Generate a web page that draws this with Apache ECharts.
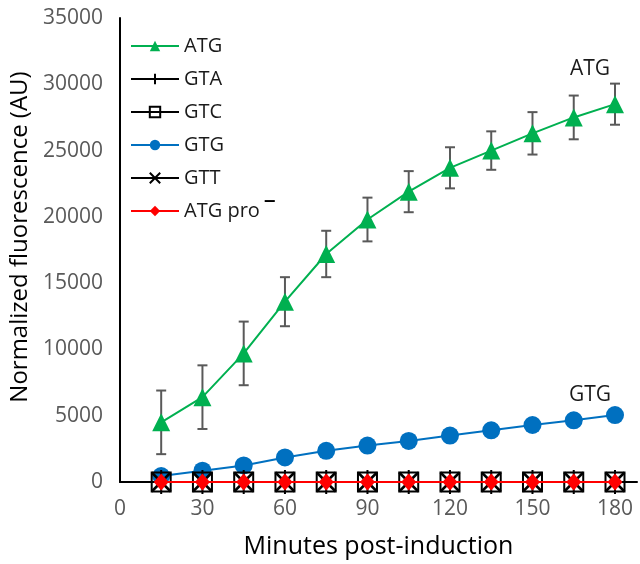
<!DOCTYPE html>
<html><head><meta charset="utf-8">
<script src="https://cdn.jsdelivr.net/npm/echarts@6/dist/echarts.min.js"></script>
<style>html,body{margin:0;padding:0;background:#fff}#c{width:640px;height:564px}</style>
</head><body><div id="c"></div>
<script>
var minutes = [15, 30, 45, 60, 75, 90, 105, 120, 135, 150, 165, 180];
var atg    = [4500, 6400, 9700, 13600, 17200, 19800, 21900, 23700, 25000, 26300, 27500, 28500];
var atgErr = [2400, 2400, 2400, 1850, 1750, 1650, 1550, 1550, 1450, 1600, 1650, 1550];
var gta    = [0, 0, 0, 0, 0, 0, 0, 0, 0, 0, 0, 0];
var gtc    = [0, 0, 0, 0, 0, 0, 0, 0, 0, 0, 0, 0];
var gtg    = [450, 850, 1250, 1850, 2350, 2750, 3100, 3500, 3900, 4300, 4650, 5050];
var gtt    = [0, 0, 0, 0, 0, 0, 0, 0, 0, 0, 0, 0];
var atgPro = [0, 0, 0, 0, 0, 0, 0, 0, 0, 0, 0, 0];
var yTicks = [0, 5000, 10000, 15000, 20000, 25000, 30000, 35000];
var xTicks = [0, 30, 60, 90, 120, 150, 180];

function pairs(v){ return minutes.map(function(m,i){ return [m, v[i]]; }); }
function withEndLabel(v, txt, off){
  return minutes.map(function(m,i){
    var d = {value:[m, v[i]]};
    if(i === minutes.length-1){
      d.label = {show:true, position:'top', offset:off, formatter:txt,
        fontFamily:'Open Sans', fontSize:21, color:'#1a1a1a'};
    }
    return d;
  });
}
var errData = minutes.map(function(m,i){ return [m, atg[i]-atgErr[i], atg[i]+atgErr[i]]; });

var FONT = 'Open Sans';
var chart = echarts.init(document.getElementById('c'), null, {renderer:'canvas'});
chart.setOption({
  animation:false,
  grid:{left:118, right:0, top:18, bottom:80, containLabel:false},
  xAxis:{type:'value', min:0, max:188, interval:30,
    name:'Minutes post-induction', nameLocation:'middle', nameGap:52,
    nameTextStyle:{fontFamily:FONT, fontSize:25, color:'#000'},
    axisLine:{show:true, lineStyle:{color:'#000', width:2}},
    axisTick:{show:false}, splitLine:{show:false},
    axisLabel:{fontFamily:FONT, fontSize:21, color:'#595959', margin:17,
      formatter:function(v){ return xTicks.indexOf(v) >= 0 ? String(v) : ''; }}
  },
  yAxis:{type:'value', min:0, max:35000, interval:5000,
    name:'Normalized fluorescence (AU)', nameLocation:'middle', nameGap:85,
    nameTextStyle:{fontFamily:FONT, fontSize:24, color:'#000', padding:[0,0,0,26]},
    axisLine:{show:true, lineStyle:{color:'#000', width:2}},
    axisTick:{show:false}, splitLine:{show:false},
    axisLabel:{fontFamily:FONT, fontSize:21, color:'#595959', margin:17,
      formatter:function(v){ return yTicks.indexOf(v) >= 0 ? String(v) : ''; }}
  },
  legend:{orient:'vertical', left:125, top:31, itemWidth:48, itemHeight:13, itemGap:13,
    selectedMode:false,
    data:['ATG','GTA','GTC','GTG','GTT','ATG pro-'],
    formatter:function(n){ return n === 'ATG pro-' ? 'ATG pro{s|\u00AF}' : n; },
    textStyle:{fontFamily:FONT, fontSize:20, color:'#1a1a1a',
      rich:{s:{fontFamily:FONT, fontSize:20, fontWeight:'bold', color:'#000', padding:[0,0,0,5]}}}
  },
  series:[
    {type:'custom', name:'err', z:1, silent:true,
      renderItem:function(params, api){
        var x = api.value(0);
        var lo = api.coord([x, api.value(1)]);
        var hi = api.coord([x, api.value(2)]);
        var w = 5;
        var st = {stroke:'#595959', lineWidth:2};
        return {type:'group', children:[
          {type:'line', shape:{x1:lo[0], y1:lo[1], x2:hi[0], y2:hi[1]}, style:st},
          {type:'line', shape:{x1:lo[0]-w, y1:lo[1], x2:lo[0]+w, y2:lo[1]}, style:st},
          {type:'line', shape:{x1:hi[0]-w, y1:hi[1], x2:hi[0]+w, y2:hi[1]}, style:st}
        ]};
      },
      encode:{x:0, y:[1,2]},
      data:errData
    },
    {type:'line', name:'ATG', z:3, data:withEndLabel(atg, 'ATG', [-25, -11]),
      symbol:'triangle', symbolSize:18, showAllSymbol:true,
      lineStyle:{color:'#00b050', width:2}, itemStyle:{color:'#00b050'}},
    {type:'line', name:'GTG', z:2, data:withEndLabel(gtg, 'GTG', [-25, 4]),
      symbol:'circle', symbolSize:18,
      lineStyle:{color:'#0070c0', width:2}, itemStyle:{color:'#0070c0'}},
    {type:'line', name:'GTA', z:4, data:pairs(gta),
      symbol:'path://M5,0L5,10M0,5L10,5', symbolSize:24,
      lineStyle:{color:'#000', width:2}, itemStyle:{color:'none', borderColor:'#000', borderWidth:2}},
    {type:'line', name:'GTC', z:4, data:pairs(gtc),
      symbol:'rect', symbolSize:19,
      lineStyle:{color:'#000', width:2}, itemStyle:{color:'rgba(0,0,0,0)', borderColor:'#000', borderWidth:2}},
    {type:'line', name:'GTT', z:5, data:pairs(gtt),
      symbol:'path://M0,0L10,10M10,0L0,10', symbolSize:19,
      lineStyle:{color:'#000', width:2}, itemStyle:{color:'none', borderColor:'#000', borderWidth:2.5}},
    {type:'line', name:'ATG pro-', z:6, data:pairs(atgPro),
      symbol:'diamond', symbolSize:[15,17],
      lineStyle:{color:'#ff0000', width:2}, itemStyle:{color:'#ff0000'}}
  ]
});
</script>
</body></html>
